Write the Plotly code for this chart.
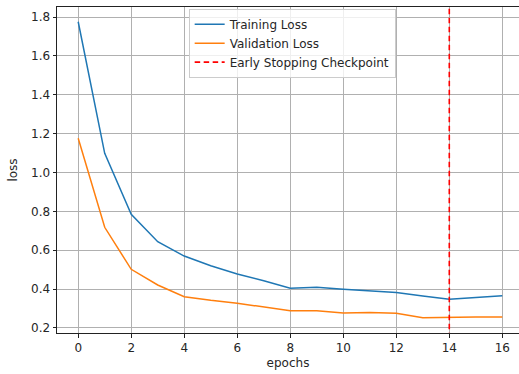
import plotly.graph_objects as go

epochs = list(range(17))
training_loss = [1.776, 1.099, 0.785, 0.644, 0.570, 0.520, 0.478, 0.443, 0.404,
                 0.409, 0.399, 0.390, 0.382, 0.365, 0.348, 0.357, 0.366]
validation_loss = [1.176, 0.718, 0.502, 0.421, 0.361, 0.342, 0.327, 0.307, 0.289,
                   0.289, 0.277, 0.280, 0.276, 0.253, 0.256, 0.256, 0.256]
checkpoint_epoch = 14
x_ticks = list(range(0, 17, 2))
y_ticks = [0.2, 0.4, 0.6, 0.8, 1.0, 1.2, 1.4, 1.6, 1.8]

y_lo, y_hi = 0.174, 1.852

fig = go.Figure()
fig.add_trace(go.Scatter(x=epochs, y=training_loss, mode="lines", name="Training Loss",
                         line=dict(color="#1f77b4", width=1.5)))
fig.add_trace(go.Scatter(x=epochs, y=validation_loss, mode="lines", name="Validation Loss",
                         line=dict(color="#ff7f0e", width=1.5)))
fig.add_trace(go.Scatter(x=[checkpoint_epoch, checkpoint_epoch], y=[y_lo - 1, y_hi + 1],
                         mode="lines", name="Early Stopping Checkpoint",
                         line=dict(color="#ff0000", width=1.6, dash="5.5px,3.5px")))

axis_common = dict(showline=True, mirror=True, linecolor="#222222", linewidth=1,
                   showgrid=True, gridcolor="#b0b0b0", gridwidth=1,
                   ticks="outside", ticklen=3.5, tickcolor="#222222", tickwidth=1,
                   zeroline=False, tickfont=dict(size=12, color="#262626"))

fig.update_layout(
    width=519, height=374,
    margin=dict(l=57, r=0, t=7, b=41, autoexpand=False),
    paper_bgcolor="white", plot_bgcolor="white",
    font=dict(family="DejaVu Sans", size=12, color="#262626"),
    showlegend=True,
    legend=dict(x=0.285, y=0.995, xanchor="left", yanchor="top",
                bgcolor="rgba(255,255,255,0.8)", bordercolor="#cccccc", borderwidth=1,
                font=dict(size=12), tracegroupgap=0, itemwidth=30),
)
fig.update_xaxes(range=[-0.8, 16.63], tickvals=x_ticks, automargin=False,
                 title=dict(text="epochs", standoff=4, font=dict(size=12)), **axis_common)
fig.update_yaxes(range=[y_lo, y_hi], tickvals=y_ticks, tickformat=".1f", automargin=False,
                 title=dict(text="loss", standoff=10, font=dict(size=12)), **axis_common)

fig.write_html("out.html", config={"displayModeBar": False},
               post_script="document.body.style.margin='0px';document.body.style.overflow='hidden';")
